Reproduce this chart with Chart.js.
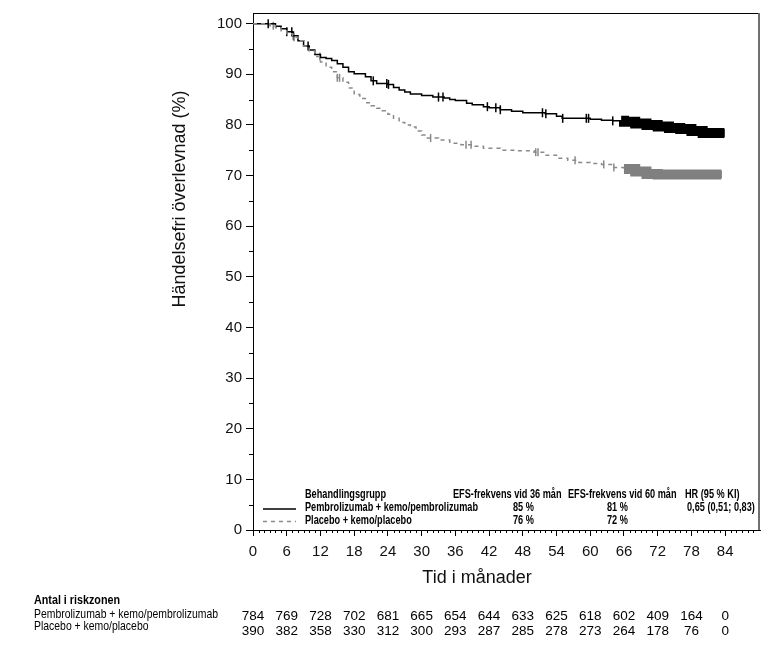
<!DOCTYPE html>
<html>
<head>
<meta charset="utf-8">
<script src="https://cdn.jsdelivr.net/npm/chart.js@4.4.0/dist/chart.umd.min.js"></script>
<style>
  body { margin: 0; background: #fff; }
  #wrap { width: 783px; height: 651px; }
</style>
</head>
<body>
<div id="wrap"><canvas id="km" width="783" height="651"></canvas></div>
<script>
// Kaplan-Meier readings (month, event-free survival %)
const pembroTimes = [0, 3, 4, 5, 6, 7, 8, 9, 10, 11, 12, 13, 14, 15, 16, 17, 18, 20, 21, 22, 24, 25, 26, 27, 28, 30, 32, 34, 35, 36, 38, 39, 41, 42, 44, 46, 48, 52, 54, 55, 60, 62, 64, 66, 68, 70, 72, 74, 76, 78, 80, 83.8];
const pembroSurv  = [100, 100, 99.5, 99, 98.4, 97.6, 96.6, 95.6, 94.8, 93.9, 93.3, 93.1, 92.7, 92.1, 91.4, 90.5, 90.1, 89.5, 88.7, 88.2, 88.0, 87.4, 86.9, 86.5, 86.1, 85.8, 85.5, 85.3, 85.0, 84.8, 84.3, 84.0, 83.6, 83.4, 83.0, 82.7, 82.4, 82.2, 81.7, 81.3, 81.1, 80.9, 80.8, 80.6, 80.3, 80.0, 79.7, 79.4, 79.2, 78.8, 78.4, 78.4];

const placeboTimes = [0, 3, 4, 5, 6, 7, 8, 9, 10, 11, 12, 13, 14, 15, 16, 17, 18, 19, 20, 21, 22, 23, 24, 25, 26, 27, 28, 29, 30, 31, 33, 35, 37, 39, 41, 44, 47, 50, 52, 54, 56, 58, 60, 62, 64, 66, 68, 70, 72, 83.3];
const placeboSurv  = [100, 99.6, 99.2, 98.6, 98.0, 97.3, 96.6, 95.6, 94.6, 93.5, 92.4, 91.4, 90.5, 89.3, 88.4, 87.3, 86.0, 85.2, 84.4, 83.8, 83.3, 82.8, 82.1, 81.3, 80.5, 80.0, 79.6, 78.8, 78.0, 77.4, 77.0, 76.4, 76.1, 75.8, 75.4, 75.0, 74.9, 74.6, 74.0, 73.4, 73.0, 72.6, 72.4, 72.2, 71.6, 71.3, 70.8, 70.3, 70.2, 70.2];

// censored observations (single marks), and start of the dense censoring band
const pembroCensor = [2.7, 6.0, 6.9, 7.2, 9.8, 21.4, 23.8, 24.1, 33.0, 33.8, 41.7, 43.2, 44.0, 51.5, 52.1, 55.1, 59.3, 59.7, 64.0, 83.8];
const placeboCensor = [3.6, 7.3, 11.9, 15.0, 15.4, 31.6, 37.9, 38.8, 50.3, 50.7, 57.3, 62.4, 64.2, 83.3];
const pembroBandStart = 65.5;
const placeboBandStart = 66.0;

const xTicks = [0, 6, 12, 18, 24, 30, 36, 42, 48, 54, 60, 66, 72, 78, 84];
const yTicks = [0, 10, 20, 30, 40, 50, 60, 70, 80, 90, 100];

const riskMonths = [0, 6, 12, 18, 24, 30, 36, 42, 48, 54, 60, 66, 72, 78, 84];
const pembroRisk = [784, 769, 728, 702, 681, 665, 654, 644, 633, 625, 618, 602, 409, 164, 0];
const placeboRisk = [390, 382, 358, 330, 312, 300, 293, 287, 285, 278, 273, 264, 178, 76, 0];

const groupNames = ['Pembrolizumab + kemo/pembrolizumab', 'Placebo + kemo/placebo'];
const efs36 = ['85 %', '76 %'];
const efs60 = ['81 %', '72 %'];
const hrText = '0,65 (0,51; 0,83)';

const BLACK = '#000000';
const GREY = '#8a8a8a';

// step-function lookup for a curve
function survAt(times, vals, t) {
  let v = vals[0];
  for (let i = 0; i < times.length; i++) {
    if (times[i] <= t) v = vals[i];
  }
  return v;
}
function toPoints(times, vals) {
  return times.map((t, i) => ({ x: t, y: vals[i] }));
}
function bandPoints(times, vals, start) {
  const pts = [{ x: start, y: survAt(times, vals, start) }];
  times.forEach((t, i) => { if (t > start) pts.push({ x: t, y: vals[i] }); });
  return pts;
}
function censorPoints(times, vals, cens) {
  return cens.map(t => ({ x: t, y: survAt(times, vals, t) }));
}

const arial = '"Liberation Sans", Arial, sans-serif';

// no narrow font installed: squeeze Arial horizontally
function narrowText(ctx, text, x, y, sx) {
  ctx.save();
  ctx.translate(x, y);
  ctx.scale(sx, 1);
  ctx.fillText(text, 0, 0);
  ctx.restore();
}

const decorPlugin = {
  id: 'decor',
  afterDraw(chart) {
    const ctx = chart.ctx;
    const xs = chart.scales.x, ys = chart.scales.y;
    const a = chart.chartArea;
    ctx.save();

    // frame top and right
    ctx.strokeStyle = BLACK;
    ctx.lineWidth = 1;
    ctx.beginPath();
    ctx.moveTo(a.left, a.top + 0.5);
    ctx.lineTo(a.right, a.top + 0.5);
    ctx.stroke();
    ctx.strokeStyle = '#707070';
    ctx.lineWidth = 2;
    ctx.beginPath();
    ctx.moveTo(a.right - 1, a.top);
    ctx.lineTo(a.right - 1, a.bottom);
    ctx.stroke();

    // minor ticks
    ctx.strokeStyle = BLACK;
    ctx.lineWidth = 1;
    ctx.beginPath();
    for (let m = 1; m <= 90; m++) {
      if (m % 6 === 0) continue;
      const px = Math.round(xs.getPixelForValue(m)) + 0.5;
      ctx.moveTo(px, a.bottom);
      ctx.lineTo(px, a.bottom + 3);
    }
    for (let v = 5; v < 100; v += 10) {
      const py = Math.round(ys.getPixelForValue(v)) + 0.5;
      ctx.moveTo(a.left, py);
      ctx.lineTo(a.left - 4, py);
    }
    ctx.stroke();

    // axis titles
    ctx.fillStyle = '#111';
    ctx.font = '18px ' + arial;
    ctx.textAlign = 'center';
    ctx.textBaseline = 'middle';
    ctx.fillText('Tid i månader', 477, 578);
    ctx.save();
    ctx.translate(180, 199);
    ctx.rotate(-Math.PI / 2);
    ctx.fillText('Händelsefri överlevnad (%)', 0, 0);
    ctx.restore();

    // legend inside plot
    ctx.textAlign = 'left';
    ctx.fillStyle = '#000';
    ctx.font = 'bold 12.5px ' + arial;
    const lsx = 173 / ctx.measureText(groupNames[0]).width;
    narrowText(ctx, 'Behandlingsgrupp', 305, 495, lsx);
    narrowText(ctx, 'EFS-frekvens vid 36 mån', 453, 495, lsx);
    narrowText(ctx, 'EFS-frekvens vid 60 mån', 568, 495, lsx);
    narrowText(ctx, 'HR (95 % KI)', 685, 495, lsx);
    const rowY = [508, 520.5];
    groupNames.forEach((g, i) => {
      narrowText(ctx, g, 305, rowY[i], lsx);
      narrowText(ctx, efs36[i], 513, rowY[i], lsx);
      narrowText(ctx, efs60[i], 607, rowY[i], lsx);
    });
    narrowText(ctx, hrText, 687, rowY[0], lsx);
    ctx.lineWidth = 1.5;
    ctx.strokeStyle = BLACK;
    ctx.beginPath();
    ctx.moveTo(263, rowY[0] + 1);
    ctx.lineTo(296, rowY[0] + 1);
    ctx.stroke();
    ctx.strokeStyle = GREY;
    ctx.setLineDash([4, 4]);
    ctx.beginPath();
    ctx.moveTo(263, rowY[1] + 1);
    ctx.lineTo(296, rowY[1] + 1);
    ctx.stroke();
    ctx.setLineDash([]);

    // number at risk table
    ctx.fillStyle = '#000';
    ctx.font = 'bold 13px ' + arial;
    narrowText(ctx, 'Antal i riskzonen', 34, 600, 86 / ctx.measureText('Antal i riskzonen').width);
    ctx.font = '13px ' + arial;
    const rsx = 184 / ctx.measureText(groupNames[0]).width;
    narrowText(ctx, groupNames[0], 34, 614, rsx);
    narrowText(ctx, groupNames[1], 34, 626, rsx);
    ctx.font = '13.5px ' + arial;
    ctx.textAlign = 'center';
    riskMonths.forEach((m, i) => {
      const px = xs.getPixelForValue(m);
      ctx.fillText(String(pembroRisk[i]), px, 616);
      ctx.fillText(String(placeboRisk[i]), px, 631);
    });
    ctx.restore();
  }
};

const ctx = document.getElementById('km').getContext('2d');
const chart = new Chart(ctx, {
  type: 'line',
  data: {
    datasets: [
      {
        label: 'Pembrolizumab band',
        data: bandPoints(pembroTimes, pembroSurv, pembroBandStart),
        borderColor: BLACK,
        borderWidth: 10,
        borderCapStyle: 'butt',
        stepped: true,
        pointRadius: 0
      },
      {
        label: 'Placebo band',
        data: bandPoints(placeboTimes, placeboSurv, placeboBandStart),
        borderColor: '#808080',
        borderWidth: 10,
        borderCapStyle: 'butt',
        stepped: true,
        pointRadius: 0
      },
      {
        label: groupNames[1],
        data: toPoints(placeboTimes, placeboSurv),
        borderColor: GREY,
        borderWidth: 1.5,
        borderDash: [4, 4],
        stepped: true,
        pointRadius: 0
      },
      {
        label: groupNames[0],
        data: toPoints(pembroTimes, pembroSurv),
        borderColor: BLACK,
        borderWidth: 1.5,
        stepped: true,
        pointRadius: 0
      },
      {
        type: 'scatter',
        label: 'Placebo censored',
        data: censorPoints(placeboTimes, placeboSurv, placeboCensor),
        pointStyle: 'line',
        rotation: 90,
        pointRadius: 4,
        borderColor: GREY,
        borderWidth: 1.5,
        showLine: false
      },
      {
        type: 'scatter',
        label: 'Pembrolizumab censored',
        data: censorPoints(pembroTimes, pembroSurv, pembroCensor),
        pointStyle: 'line',
        rotation: 90,
        pointRadius: 4.5,
        borderColor: BLACK,
        borderWidth: 1.5,
        showLine: false
      }
    ]
  },
  options: {
    responsive: false,
    animation: false,
    devicePixelRatio: 1,
    layout: { padding: { left: 0, top: 12, right: 23, bottom: 0 } },
    plugins: { legend: { display: false }, tooltip: { enabled: false } },
    scales: {
      x: {
        type: 'linear',
        min: 0,
        max: 90.2,
        afterBuildTicks: s => { s.ticks = xTicks.map(v => ({ value: v })); },
        afterFit: s => { s.height = 121; },
        grid: { drawOnChartArea: false, tickLength: 6, color: BLACK },
        border: { color: BLACK, width: 1 },
        ticks: { color: '#111', font: { family: arial, size: 15 }, padding: 7, maxRotation: 0 }
      },
      y: {
        type: 'linear',
        min: 0,
        max: 102.1,
        afterBuildTicks: s => { s.ticks = yTicks.map(v => ({ value: v })); },
        afterFit: s => { s.width = 253; },
        grid: { drawOnChartArea: false, tickLength: 7, color: BLACK },
        border: { color: BLACK, width: 1 },
        ticks: { color: '#111', font: { family: arial, size: 15 }, padding: 4 }
      }
    }
  },
  plugins: [decorPlugin]
});
</script>
</body>
</html>
